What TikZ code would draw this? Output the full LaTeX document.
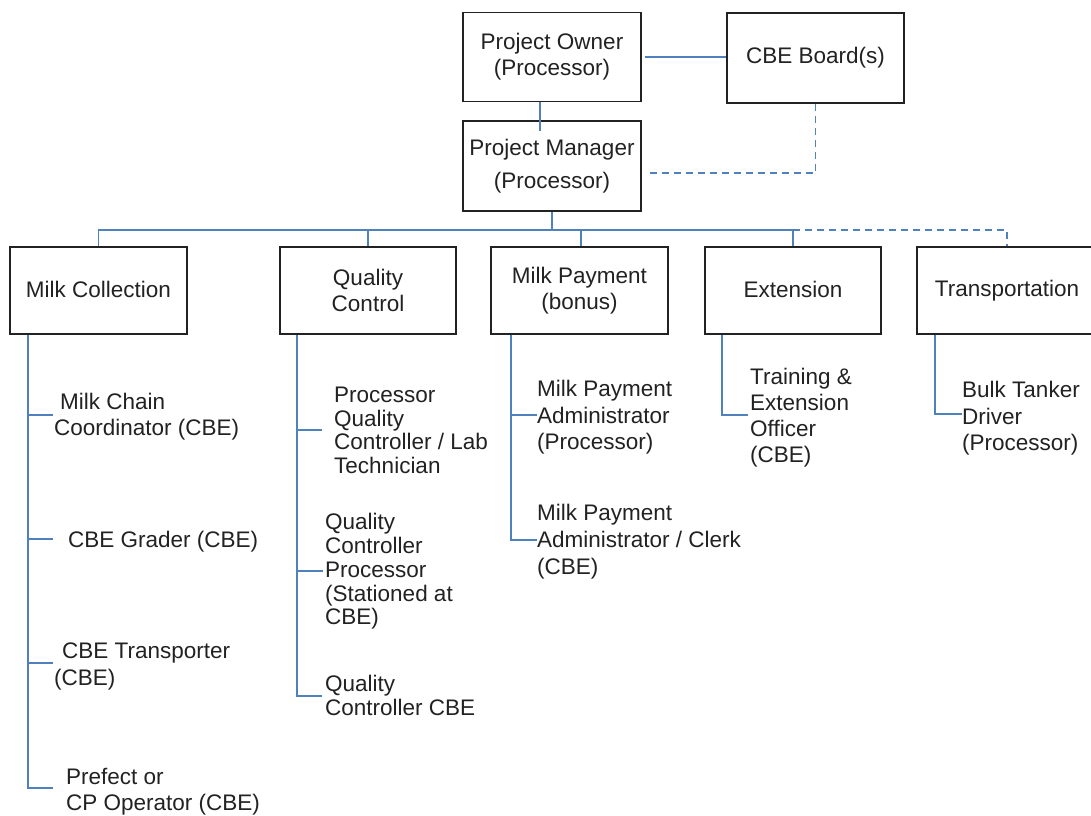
\documentclass[tikz,border=0pt]{standalone}
\usepackage{fontspec}
\setmainfont{Liberation Sans}
\definecolor{linkblue}{RGB}{79,129,189}
\definecolor{ink}{RGB}{34,34,34}
\begin{document}
\begin{tikzpicture}[x=1pt,y=-1pt,
  box/.style={draw=ink, line width=1.9pt, minimum width=177pt, minimum height=88pt,
    inner sep=0pt, align=center, text=ink, font=\fontsize{22.5}{26}\selectfont},
  lbl/.style={anchor=west, inner sep=0pt, align=left, text=ink},
  tight/.style={font=\fontsize{22.5}{23.7}\selectfont},
  loose/.style={font=\fontsize{22.5}{26.3}\selectfont},
  link/.style={draw=linkblue, line width=1.8pt},
  dlink/.style={link, dash pattern=on 7pt off 5pt}]

\useasboundingbox (0,0) rectangle (1091,815);
\fill[white] (0,0) rectangle (1091,815);
\clip (0,0) rectangle (1091,815);

% management boxes
\node[box, minimum width=178pt, minimum height=89pt] (owner) at (552,57) {Project Owner\\(Processor)};
\node[box, minimum height=90pt] (board) at (815.5,58) {CBE Board(s)};
\node[box, minimum width=178pt, minimum height=90pt] (manager) at (552,166) {Project Manager\\[7pt](Processor)};

% department boxes
\node[box, minimum height=87pt] (mc) at (98.5,290.5) {\raisebox{3pt}{Milk Collection}};
\node[box, minimum width=176pt, minimum height=87pt] (qc) at (368,290.5) {Quality\\Control};
\node[box, minimum height=87pt] (mp) at (579.5,290.5) {Milk Payment\\(bonus)};
\node[box, minimum width=176pt, minimum height=87pt] (ext) at (793,290.5) {\raisebox{3pt}{Extension}};
\node[box, minimum width=180pt, minimum height=87pt] (trans) at (1007,290.5) {\raisebox{3pt}{Transportation}};

% upper connectors
\coordinate (omx) at (540,0);
\draw[link] (owner.south -| omx) -- ([yshift=-11pt]manager.north -| omx);
\draw[link] ([xshift=3pt]owner.east) -- (owner.east -| board.west);
\draw[dlink] (board.south) |- ([xshift=3pt,yshift=-7pt]manager.east);

% bus to departments
\coordinate (bus) at (0,230);
\draw[link, line width=2.8pt] (manager.south) -- (manager.south |- bus);
\draw[link] (mc.north) |- (ext.north |- bus) -- (ext.north);
\draw[link] (qc.north |- bus) -- (qc.north);
\coordinate (mpx) at (581,0);
\draw[link] (mpx |- bus) -- (mpx |- mp.north);
\draw[dlink] (ext.north |- bus) -| (trans.north);

% milk collection roles
\node[lbl, loose] (mc1) at (54,417) {\hspace*{6pt}Milk Chain\\Coordinator (CBE)};
\node[lbl, loose] (mc2) at (68,542) {CBE Grader (CBE)};
\node[lbl, loose] (mc3) at (54,666.5) {\hspace*{8pt}CBE Transporter\\(CBE)};
\node[lbl, loose] (mc4) at (66,791.5) {Prefect or\\CP Operator (CBE)};

% quality control roles
\node[lbl, tight] (qc1) at (334,430.5) {Processor\\Quality\\Controller / Lab\\Technician};
\node[lbl, tight] (qc2) at (325,571.5) {Quality\\Controller\\Processor\\(Stationed at\\CBE)};
\node[lbl, tight] (qc3) at (325,695.5) {Quality\\Controller CBE};

% milk payment roles
\node[lbl, loose, font=\fontsize{22.5}{26.5}\selectfont] (mp1) at (537,417.5) {Milk Payment\\Administrator\\(Processor)};
\node[lbl, loose, font=\fontsize{22.5}{27}\selectfont] (mp2) at (537,542) {Milk Payment\\Administrator / Clerk\\(CBE)};

% extension and transport roles
\node[lbl, loose, font=\fontsize{22.5}{26}\selectfont] (ex1) at (750,418) {Training \&\\Extension\\Officer\\(CBE)};
\node[lbl, loose, font=\fontsize{22.5}{26.5}\selectfont] (tr1) at (962,418.5) {Bulk Tanker\\Driver\\(Processor)};

% branch ends
\coordinate (mcT) at (28,334.5);
\coordinate (mcb1) at (53,415);
\coordinate (mcb2) at (53,539);
\coordinate (mcb3) at (53,663);
\coordinate (mcb4) at (53,788);
\coordinate (qcT) at (297,334.5);
\coordinate (qcb1) at (322,430);
\coordinate (qcb2) at (323,571);
\coordinate (qcb3) at (322,696);
\coordinate (mpT) at (511,334.5);
\coordinate (mpb1) at (537,415);
\coordinate (mpb2) at (537,540);
\coordinate (exT) at (722,334.5);
\coordinate (exb1) at (748,415);
\coordinate (trT) at (935,334.5);
\coordinate (trb1) at (962,414);

% role branches
\draw[link] (mcT) |- (mcb4);
\foreach \b in {mcb1,mcb2,mcb3} \draw[link] (mcT |- \b) -- (\b);
\draw[link] (qcT) |- (qcb3);
\foreach \b in {qcb1,qcb2} \draw[link] (qcT |- \b) -- (\b);
\draw[link] (mpT) |- (mpb2);
\draw[link] (mpT |- mpb1) -- (mpb1);
\draw[link] (exT) |- (exb1);
\draw[link] (trT) |- (trb1);
\end{tikzpicture}
\end{document}
